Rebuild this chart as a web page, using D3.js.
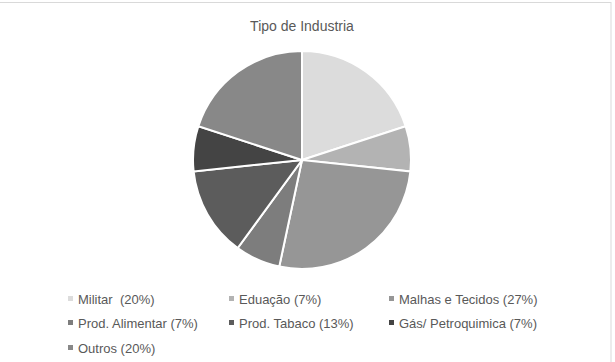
<!DOCTYPE html>
<html>
<head>
<meta charset="utf-8">
<script src="https://cdn.jsdelivr.net/npm/d3@7"></script>
<style>
body { margin: 0; background: #fff; }
text { font-family: "Liberation Sans", Arial, sans-serif; fill: #595959; white-space: pre; }
</style>
</head>
<body>
<script>
const categories = ['Militar', 'Eduação', 'Malhas e Tecidos', 'Prod. Alimentar', 'Prod. Tabaco', 'Gás/ Petroquimica', 'Outros'];
const values = [20, 6.7, 26.7, 6.7, 13.3, 6.7, 20];
const labels = ['Militar  (20%)', 'Eduação (7%)', 'Malhas e Tecidos (27%)', 'Prod. Alimentar (7%)', 'Prod. Tabaco (13%)', 'Gás/ Petroquimica (7%)', 'Outros (20%)'];
const colors = ['#dcdcdc', '#b3b3b3', '#969696', '#7d7d7d', '#5c5c5c', '#444444', '#888888'];

const width = 615, height = 362;
const svg = d3.select(document.body).append('svg')
  .attr('width', width).attr('height', height);

// chart area border
svg.append('rect')
  .attr('x', -1).attr('y', 2.5)
  .attr('width', 612).attr('height', 400)
  .attr('fill', 'none').attr('stroke', '#d9d9d9');

svg.append('text')
  .attr('x', 302).attr('y', 31)
  .attr('text-anchor', 'middle')
  .style('font-size', '14px')
  .text('Tipo de Industria');

const color = d3.scaleOrdinal().domain(categories).range(colors);
const pie = d3.pie().sort(null).value(d => d.value);
const arc = d3.arc().innerRadius(0).outerRadius(109);
const data = categories.map((c, i) => ({ name: c, value: values[i] }));

svg.append('g')
  .attr('transform', 'translate(302,160)')
  .selectAll('path')
  .data(pie(data))
  .join('path')
  .attr('d', arc)
  .attr('fill', d => color(d.data.name))
  .attr('stroke', '#fff')
  .attr('stroke-width', 2);

// legend, 3 columns
const colX = [68, 229, 389];
const rowY = [299, 323, 348];
const legend = svg.append('g')
  .selectAll('g')
  .data(data)
  .join('g')
  .attr('transform', (d, i) => `translate(${colX[i % 3]},${rowY[Math.floor(i / 3)]})`);

legend.append('rect')
  .attr('x', 0).attr('y', -3)
  .attr('width', 5).attr('height', 5)
  .attr('fill', d => color(d.name));

legend.append('text')
  .attr('x', 10).attr('y', 4.5)
  .style('font-size', '13px')
  .text((d, i) => labels[i]);
</script>
</body>
</html>
